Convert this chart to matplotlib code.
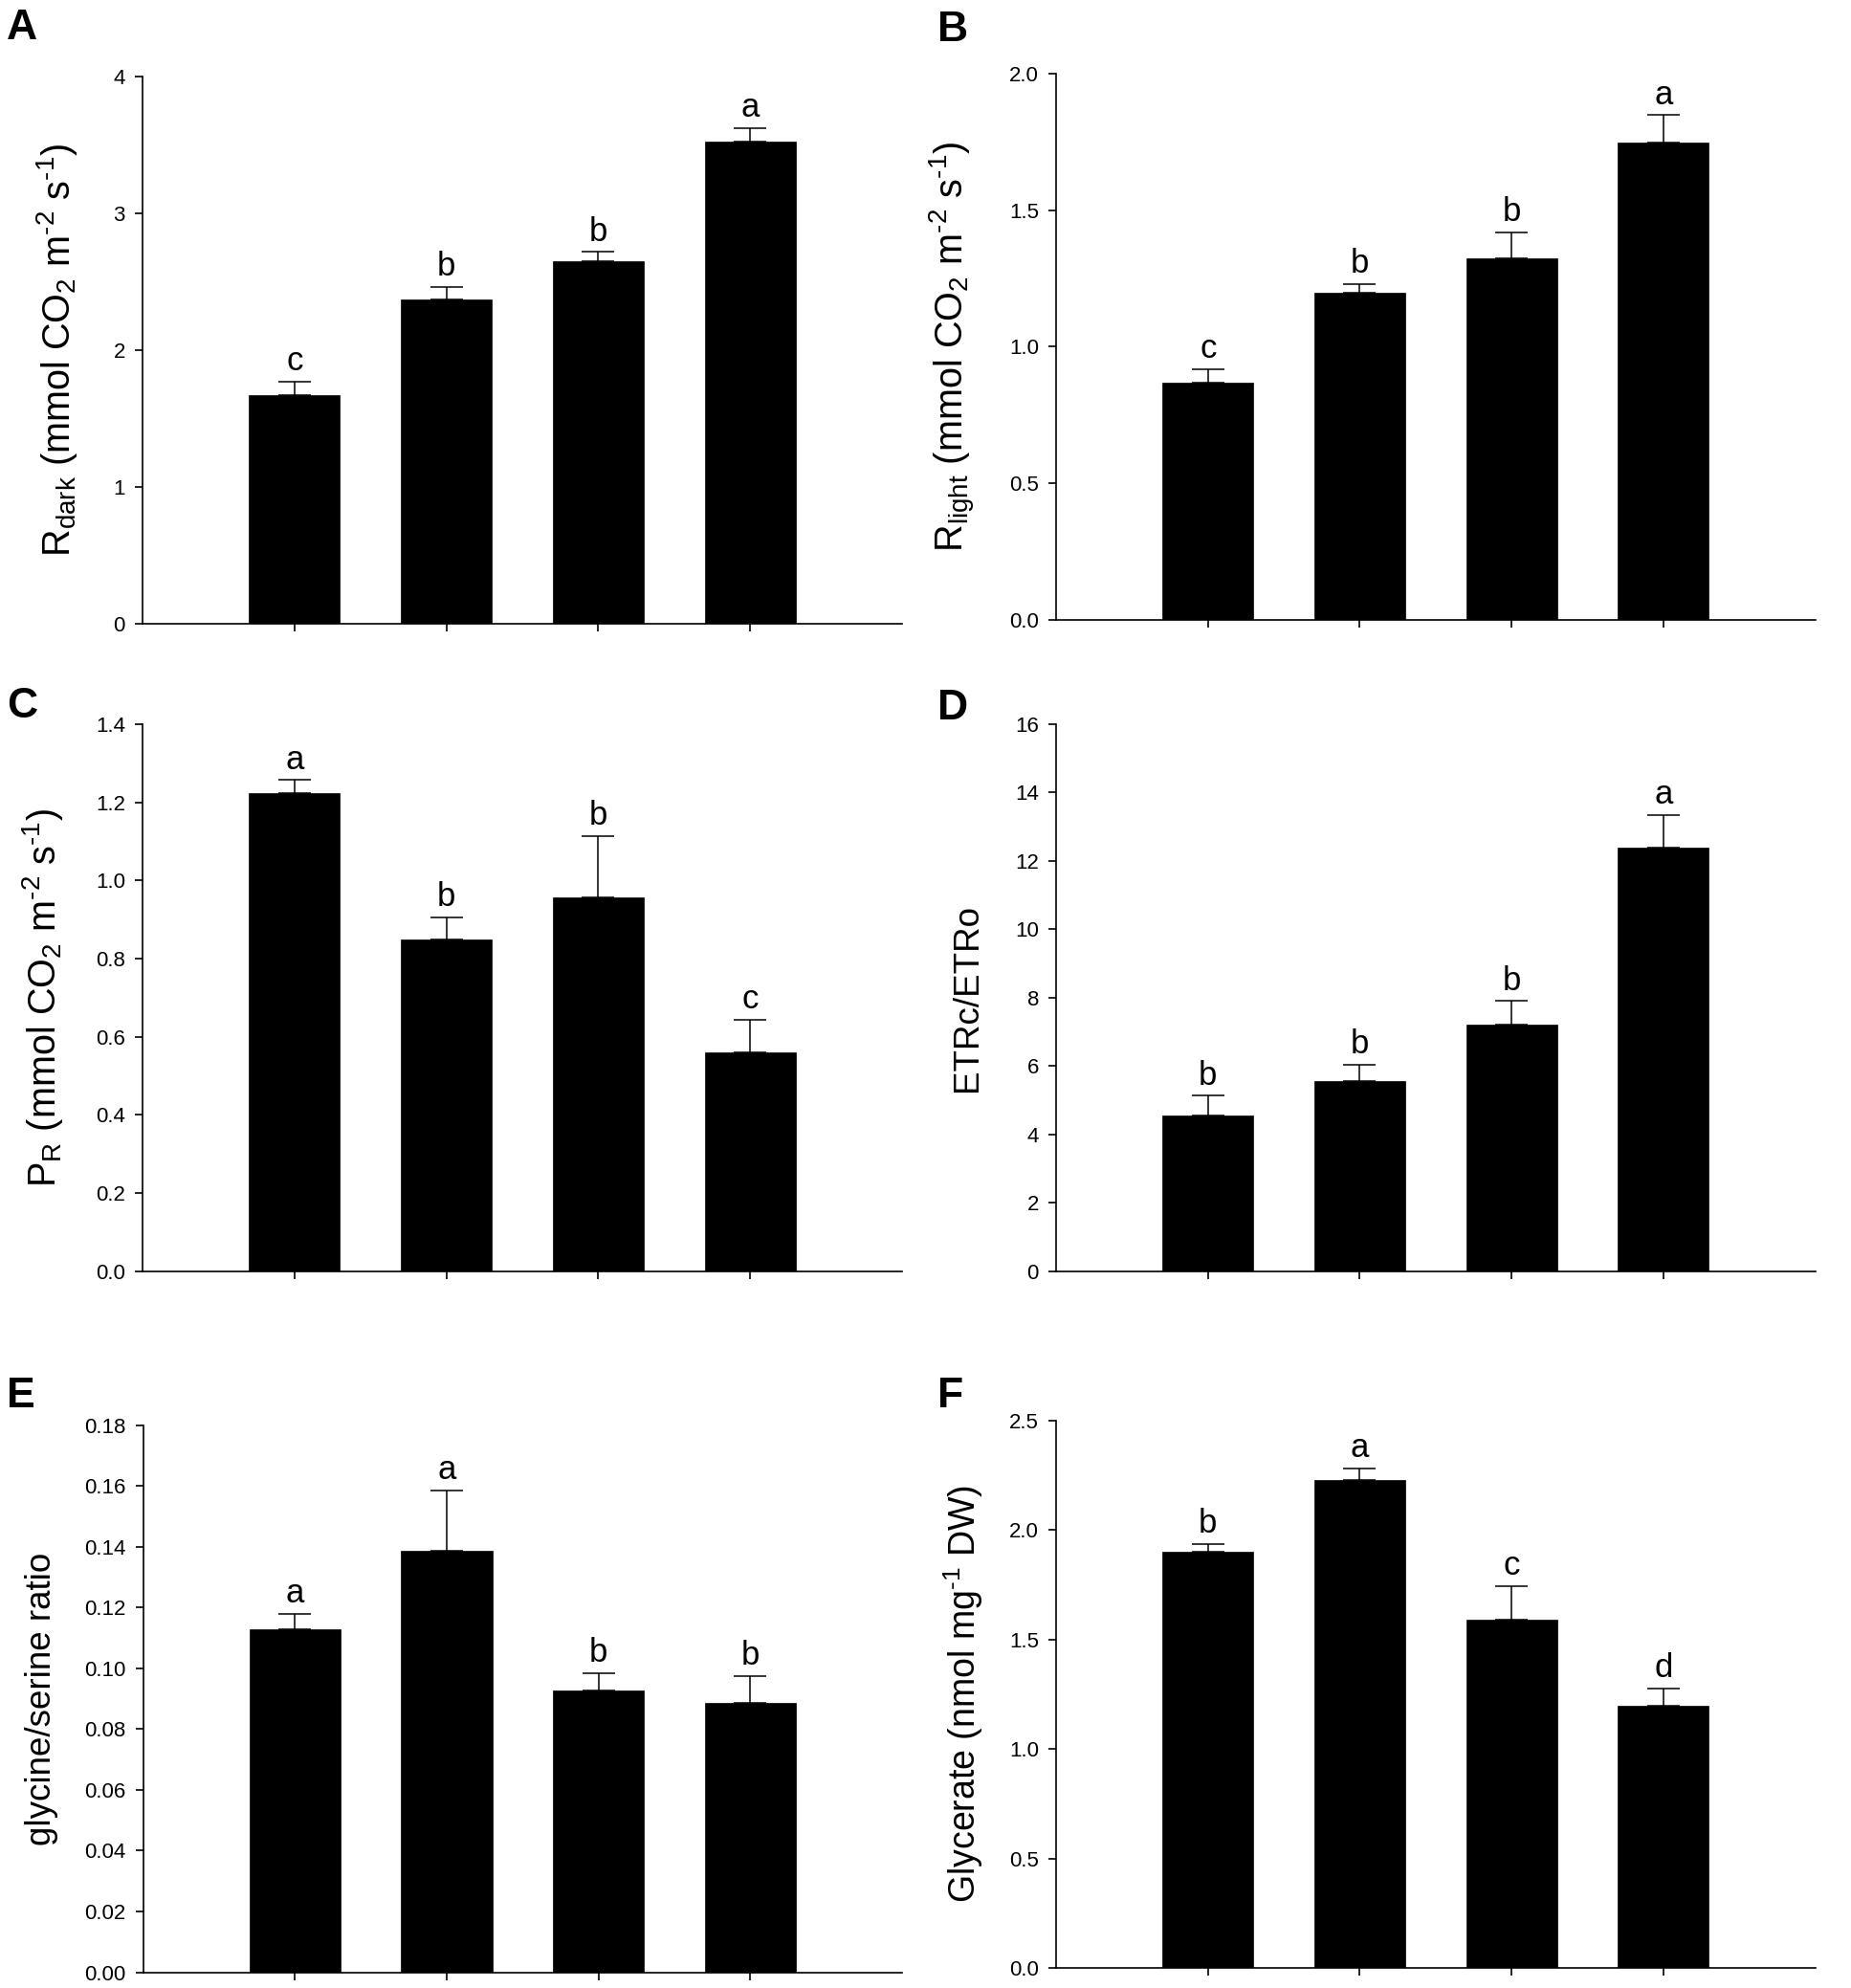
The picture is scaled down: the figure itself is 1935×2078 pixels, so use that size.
import numpy as np
import matplotlib
matplotlib.use("Agg")
import matplotlib.pyplot as plt
from matplotlib.ticker import FormatStrFormatter

plt.rcParams['font.family'] = ['Liberation Sans', 'DejaVu Sans']
plt.rcParams['mathtext.fontset'] = 'custom'
plt.rcParams['mathtext.rm'] = 'Liberation Sans'
plt.rcParams['mathtext.it'] = 'Liberation Sans:italic'
plt.rcParams['mathtext.bf'] = 'Liberation Sans:bold'

# datos (media y error superior)
groups = [1, 2, 3, 4]

rdark = [1.67, 2.365, 2.646, 3.523]
rdark_err = [0.10, 0.094, 0.068, 0.096]
rdark_let = ['c', 'b', 'b', 'a']

rlight = [0.869, 1.198, 1.322, 1.747]
rlight_err = [0.05, 0.032, 0.097, 0.10]
rlight_let = ['c', 'b', 'b', 'a']

pr = [1.223, 0.850, 0.956, 0.560]
pr_err = [0.034, 0.055, 0.157, 0.084]
pr_let = ['a', 'b', 'b', 'c']

etr = [4.547, 5.558, 7.207, 12.37]
etr_err = [0.58, 0.47, 0.69, 0.97]
etr_let = ['b', 'b', 'b', 'a']

glyser = [0.1128, 0.1385, 0.0928, 0.0887]
glyser_err = [0.005, 0.0199, 0.0056, 0.0087]
glyser_let = ['a', 'a', 'b', 'b']

glycerate = [1.900, 2.228, 1.588, 1.199]
glycerate_err = [0.035, 0.053, 0.157, 0.077]
glycerate_let = ['b', 'a', 'c', 'd']

W, H = 1935, 2078
fig = plt.figure(figsize=(W / 100, H / 100), dpi=100)

def caja(l, r, t, b):
    return [l / W, 1 - b / H, (r - l) / W, (b - t) / H]

# guion corto en los exponentes, como en la figura original
unidad = '(mmol CO$_2$ m$^{\u20102}$ s$^{\u20101}$)'

paneles = [
    # letra, caja, datos, err, letras, ylim, paso, formato, ylabel, tamano, pos label, pos letra
    ('A', (149, 943, 79.5, 651.8), rdark, rdark_err, rdark_let, 4, 1, '%d',
     r'R$_{\mathrm{dark}}$ ' + unidad, 28.5, -0.113, (7, 18)),
    ('B', (1104, 1897.6, 76.8, 648), rlight, rlight_err, rlight_let, 2.0, 0.5, '%.1f',
     r'R$_{\mathrm{light}}$ ' + unidad, 28.5, -0.136, (980, 20)),
    ('C', (149, 943, 757, 1328.6), pr, pr_err, pr_let, 1.4, 0.2, '%.1f',
     r'P$_{\mathrm{R}}$ ' + unidad, 28.5, -0.132, (7, 727)),
    ('D', (1104, 1897.6, 756.7, 1328.6), etr, etr_err, etr_let, 16, 2, '%d',
     'ETRc/ETRo', 26.5, -0.117, (980, 729)),
    ('E', (149.5, 943, 1489.5, 2061.5), glyser, glyser_err, glyser_let, 0.18, 0.02, '%.2f',
     'glycine/serine ratio', 26.5, -0.133, (7, 1448)),
    ('F', (1104, 1897.6, 1484.7, 2057), glycerate, glycerate_err, glycerate_let, 2.5, 0.5, '%.1f',
     'Glycerate (nmol mg$^{\u20101}$ DW)', 27, -0.122, (980, 1448)),
]

for letra, bx, vals, errs, lets, ymax, paso, fmt, ylab, fs, lx, pos in paneles:
    ax = fig.add_axes(caja(*bx))
    ax.bar(groups, vals, width=0.6, color='black', edgecolor='black', linewidth=0.5, zorder=2)
    ax.errorbar(groups, vals, yerr=[np.zeros(4), errs], fmt='none', ecolor='black',
                elinewidth=1.1, capsize=12, capthick=1.1, zorder=3)
    for g, v, e, t in zip(groups, vals, errs, lets):
        ax.annotate(t, (g, v + e), xytext=(0, 8.5), textcoords='offset points',
                    ha='center', va='baseline', fontsize=25)
    ax.set_xlim(0, 5)
    ax.set_ylim(0, ymax)
    ax.set_yticks(np.arange(0, ymax + paso / 2, paso))
    ax.yaxis.set_major_formatter(FormatStrFormatter(fmt))
    ax.set_xticks(groups)
    ax.set_xticklabels([])
    ax.spines['top'].set_visible(False)
    ax.spines['right'].set_visible(False)
    ax.spines['left'].set_linewidth(1.2)
    ax.spines['bottom'].set_linewidth(1.2)
    ax.tick_params(direction='out', length=6, width=1.2, labelsize=16, pad=7)
    ax.set_ylabel(ylab, fontsize=fs, va='center')
    ax.yaxis.set_label_coords(lx, 0.5)
    fig.text((pos[0]) / W, 1 - (pos[1] - 9) / H, letra, fontsize=32, fontweight='bold',
             ha='left', va='top')

fig.savefig('out.png', dpi=100)
